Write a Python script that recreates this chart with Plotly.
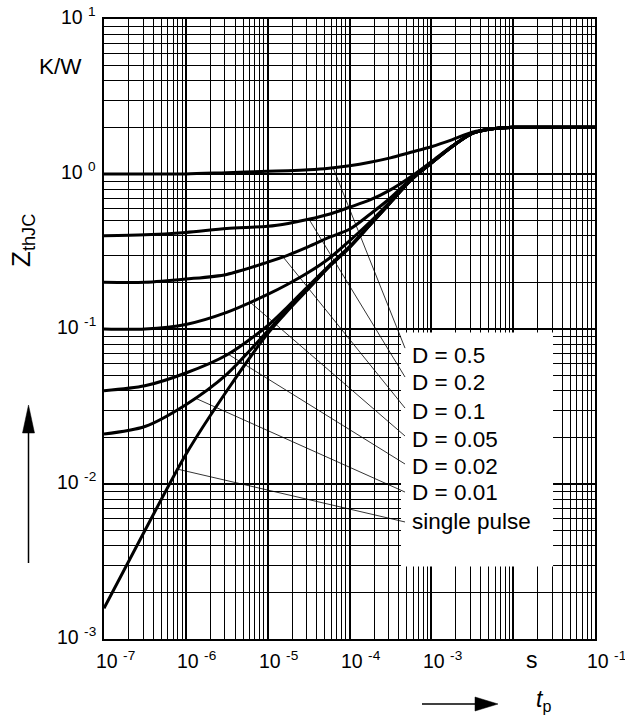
import numpy as np
import plotly.graph_objects as go

# ---------------- data ----------------
t_s = [1.0e-7, 3.16e-7, 1.0e-6, 3.16e-6, 1.0e-5, 1.78e-5, 3.16e-5, 5.62e-5,
       1.0e-4, 1.78e-4, 3.16e-4, 5.62e-4, 1.0e-3, 1.78e-3, 3.16e-3, 5.62e-3,
       1.0e-2, 3.16e-2, 1.0e-1]

z_d050 = [1.0, 1.0, 1.0, 1.02, 1.04, 1.05, 1.065, 1.09, 1.13, 1.19, 1.27, 1.38,
          1.50, 1.66, 1.86, 1.96, 2.0, 2.0, 2.0]
z_d020 = [0.40, 0.405, 0.42, 0.445, 0.46, 0.48, 0.51, 0.55, 0.61, 0.68, 0.79, 0.96,
          1.20, 1.51, 1.83, 1.96, 2.0, 2.0, 2.0]
z_d010 = [0.20, 0.20, 0.21, 0.225, 0.27, 0.30, 0.34, 0.39, 0.44, 0.55, 0.70, 0.93,
          1.185, 1.50, 1.83, 1.96, 2.0, 2.0, 2.0]
z_d005 = [0.10, 0.10, 0.107, 0.128, 0.167, 0.195, 0.232, 0.285, 0.37, 0.49, 0.665, 0.918,
          1.18, 1.50, 1.83, 1.96, 2.0, 2.0, 2.0]
z_d002 = [0.040, 0.043, 0.052, 0.068, 0.105, 0.14, 0.19, 0.256, 0.34, 0.472, 0.656, 0.914,
          1.177, 1.50, 1.83, 1.96, 2.0, 2.0, 2.0]
z_d001 = [0.021, 0.0235, 0.0325, 0.051, 0.097, 0.135, 0.184, 0.253, 0.337, 0.469, 0.654, 0.913,
          1.176, 1.50, 1.83, 1.96, 2.0, 2.0, 2.0]
z_single = [0.00158, 0.00501, 0.0155, 0.0398, 0.0933, 0.132, 0.182, 0.251, 0.335, 0.468,
            0.653, 0.912, 1.175, 1.50, 1.83, 1.96, 2.0, 2.0, 2.0]

curve_labels = ["D = 0.5", "D = 0.2", "D = 0.1", "D = 0.05", "D = 0.02", "D = 0.01", "single pulse"]
curve_values = [z_d050, z_d020, z_d010, z_d005, z_d002, z_d001, z_single]

# leader lines: start time on each curve, end point near the label
lead_start_t = [6.3e-5, 3.2e-5, 1.54e-5, 6.1e-6, 3.27e-6, 1.29e-6, 8.0e-7]
lead_end_t = 4.77e-4
lead_end_z = [0.0753, 0.049, 0.0309, 0.0204, 0.01346, 0.00887, 0.00569]
label_t = 5.48e-4
label_z = [0.0670, 0.0449, 0.0292, 0.0195, 0.01306, 0.00875, 0.00569]

x_decades = [-7, -6, -5, -4, -3, -2, -1]
x_labelled = [-7, -6, -5, -4, -3, -1]
y_decades = [-3, -2, -1, 0, 1]

# white label box (data coordinates)
box_t = [4.26e-4, 3.07e-2]
box_z = [0.00294, 0.095]

# ---------------- layout geometry ----------------
W, H = 625, 717
L, R, T, B = 104, 595, 19, 639
FONT = "Liberation Sans, Arial, sans-serif"


def px(x):
    return (x - L) / (R - L)


def py(y):
    return (B - y) / (B - T)


fig = go.Figure()

for lab, zs in zip(curve_labels, curve_values):
    fig.add_trace(go.Scatter(x=t_s, y=zs, mode="lines", name=lab,
                             line=dict(color="black", width=3, shape="spline", smoothing=0.8),
                             showlegend=False, hoverinfo="skip"))

major_x = [10.0 ** d for d in x_decades]
minor_x = [k * 10.0 ** d for d in x_decades[:-1] for k in range(2, 10)]
major_y = [10.0 ** d for d in y_decades]
minor_y = [k * 10.0 ** d for d in y_decades[:-1] for k in range(2, 10)]

fig.update_xaxes(type="log", range=[-7, -1], tickmode="array", tickvals=major_x,
                 showticklabels=False, ticks="", showgrid=True, gridcolor="black", gridwidth=2,
                 minor=dict(tickmode="array", tickvals=minor_x, showgrid=True,
                            gridcolor="black", gridwidth=1, ticks=""),
                 showline=True, linecolor="black", linewidth=2, mirror=True, zeroline=False)
fig.update_yaxes(type="log", range=[-3, 1], tickmode="array", tickvals=major_y,
                 showticklabels=False, ticks="", showgrid=True, gridcolor="black", gridwidth=2,
                 minor=dict(tickmode="array", tickvals=minor_y, showgrid=True,
                            gridcolor="black", gridwidth=1, ticks=""),
                 showline=True, linecolor="black", linewidth=2, mirror=True, zeroline=False)

shapes = []
# white box for labels
shapes.append(dict(type="rect", xref="x", yref="y", x0=box_t[0], x1=box_t[1],
                   y0=box_z[0], y1=box_z[1], fillcolor="white", line=dict(width=0),
                   layer="above"))


def interp_curve(tq, zs):
    return 10 ** np.interp(np.log10(tq), np.log10(t_s), np.log10(zs))


for i, zs in enumerate(curve_values):
    z0 = float(interp_curve(lead_start_t[i], zs))
    shapes.append(dict(type="line", xref="x", yref="y", x0=lead_start_t[i], y0=z0,
                       x1=lead_end_t, y1=lead_end_z[i], line=dict(color="black", width=0.8),
                       layer="above"))

# axis arrows
shapes.append(dict(type="line", xref="paper", yref="paper", x0=px(28.5), x1=px(28.5),
                   y0=py(563), y1=py(430), line=dict(color="black", width=1.5)))
shapes.append(dict(type="path", xref="paper", yref="paper",
                   path=f"M {px(22.5)} {py(433)} L {px(28.5)} {py(405)} L {px(34.5)} {py(433)} Z",
                   fillcolor="black", line=dict(color="black", width=0.5)))
shapes.append(dict(type="line", xref="paper", yref="paper", x0=px(422), x1=px(478),
                   y0=py(704), y1=py(704), line=dict(color="black", width=1.5)))
shapes.append(dict(type="path", xref="paper", yref="paper",
                   path=f"M {px(475)} {py(697)} L {px(498)} {py(704)} L {px(475)} {py(711)} Z",
                   fillcolor="black", line=dict(color="black", width=0.5)))

annotations = []
# curve labels
for lab, z in zip(curve_labels, label_z):
    annotations.append(dict(text=lab, xref="x", yref="y", x=np.log10(label_t), y=np.log10(z),
                            xanchor="left", yanchor="middle", showarrow=False,
                            font=dict(family=FONT, size=22.5, color="black")))

# x tick labels
for d in x_labelled:
    annotations.append(dict(text=f"10 <sup>{d}</sup>", xref="x", yref="paper", x=d, y=py(657),
                            xanchor="left", yanchor="middle", xshift=-10.5, yshift=-3,
                            showarrow=False, font=dict(family=FONT, size=19.5, color="black")))
# y tick labels
for d in y_decades:
    annotations.append(dict(text=f"10 <sup>{d}</sup>", xref="paper", yref="y", x=px(98), y=d,
                            xanchor="right", yanchor="middle", yshift=3,
                            showarrow=False, font=dict(family=FONT, size=19.5, color="black")))

annotations.append(dict(text="K/W", xref="paper", yref="paper", x=px(60.5), y=py(66.5),
                        xanchor="center", yanchor="middle", showarrow=False,
                        font=dict(family=FONT, size=22.5, color="black")))
annotations.append(dict(text="s", xref="paper", yref="paper", x=px(532), y=py(660),
                        xanchor="center", yanchor="middle", showarrow=False,
                        font=dict(family=FONT, size=23, color="black")))
annotations.append(dict(text="<i>t</i><sub>p</sub>", xref="paper", yref="paper", x=px(543),
                        y=py(700), xanchor="center", yanchor="middle", showarrow=False,
                        font=dict(family=FONT, size=23, color="black")))
annotations.append(dict(text="Z<sub>thJC</sub>", xref="paper", yref="paper", x=px(23),
                        y=py(241), xanchor="center", yanchor="middle", textangle=-90,
                        showarrow=False, font=dict(family=FONT, size=26, color="black")))

fig.update_layout(width=W, height=H, margin=dict(l=L, r=W - R, t=T, b=H - B, autoexpand=False),
                  paper_bgcolor="white", plot_bgcolor="white", shapes=shapes,
                  annotations=annotations, showlegend=False)

fig.write_html("out.html", config={"displayModeBar": False},
               post_script="document.body.style.margin='0px';document.body.style.padding='0px';")
